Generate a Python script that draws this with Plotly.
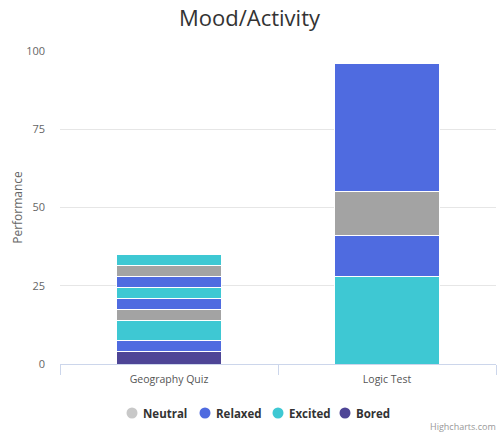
import plotly.graph_objects as go

# Categories and stacked segments (bottom to top) per series
categories = ["Geography Quiz", "Logic Test"]

# Geography Quiz segments, bottom to top
segment_series = ["Bored", "Relaxed", "Excited", "Neutral", "Relaxed",
                  "Excited", "Relaxed", "Neutral", "Excited"]
geography_values = [4, 3.5, 6.5, 3.5, 3.5, 3.5, 3.5, 3.5, 3.5]

# Logic Test segments, bottom to top
logic_series = ["Excited", "Relaxed", "Neutral", "Relaxed"]
logic_values = [28, 13, 14, 41]

legend_order = ["Neutral", "Relaxed", "Excited", "Bored"]

colors = {
    "Neutral": "#a3a3a3",
    "Relaxed": "#4f6be0",
    "Excited": "#3ec8d3",
    "Bored": "#4e4596",
}
legend_colors = {
    "Neutral": "#c8c8c8",
    "Relaxed": "#4f6be0",
    "Excited": "#3ec8d3",
    "Bored": "#4e4596",
}

W, H = 499, 434
ML, MR, MT, MB = 60, 3, 51, 70
PW, PH = W - ML - MR, H - MT - MB

fig = go.Figure()

for name, val in zip(segment_series, geography_values):
    fig.add_trace(go.Bar(
        x=[categories[0]], y=[val], name=name, showlegend=False,
        marker=dict(color=colors[name], line=dict(color="white", width=1)),
    ))

for name, val in zip(logic_series, logic_values):
    fig.add_trace(go.Bar(
        x=[categories[1]], y=[val], name=name, showlegend=False,
        marker=dict(color=colors[name], line=dict(color="white", width=1)),
    ))

# Legend row: round symbols followed by bold labels
legend_symbol_px = [132, 205, 278, 345]
legend_row_px = 413
shapes = []
annotations = []
for name, sx in zip(legend_order, legend_symbol_px):
    xp = (sx - ML) / PW
    yp = (H - MB - legend_row_px) / PH
    shapes.append(dict(
        type="circle", xref="paper", yref="paper",
        xsizemode="pixel", ysizemode="pixel", xanchor=xp, yanchor=yp,
        x0=-5.5, x1=5.5, y0=-5.5, y1=5.5,
        fillcolor=legend_colors[name], line=dict(width=0),
    ))
    annotations.append(dict(
        text=f"<b>{name}</b>", x=xp, y=yp, xref="paper", yref="paper",
        xanchor="left", yanchor="middle", xshift=9, showarrow=False,
        font=dict(size=11.5, color="#333333", family="Open Sans"),
    ))

annotations.append(dict(
    text="Highcharts.com", x=1, y=0, xref="paper", yref="paper",
    xanchor="right", yanchor="top", xshift=2, yshift=-54, showarrow=False,
    font=dict(size=9, color="#999999", family="Open Sans"),
))

fig.update_layout(
    width=W, height=H,
    barmode="stack",
    bargap=0.52,
    showlegend=False,
    paper_bgcolor="white",
    plot_bgcolor="white",
    margin=dict(l=ML, r=MR, t=MT, b=MB),
    font=dict(family="Open Sans", color="#666666"),
    title=dict(
        text="Mood/Activity", x=0.5, xref="container", xanchor="center",
        y=1 - 18 / H, yref="container", yanchor="middle",
        font=dict(size=22, color="#333333", family="Open Sans"),
    ),
    xaxis=dict(
        categoryorder="array", categoryarray=categories,
        showgrid=False, showline=True, linecolor="#ccd6eb", linewidth=1,
        ticks="outside", tickson="boundaries", ticklen=10, tickcolor="#ccd6eb",
        tickfont=dict(size=10.5, color="#555555"),
        ticklabelstandoff=5,
    ),
    yaxis=dict(
        range=[0, 100], tickvals=[0, 25, 50, 75, 100],
        showgrid=True, gridcolor="#e6e6e6", gridwidth=1,
        zeroline=False, showline=False,
        tickfont=dict(size=11, color="#666666"),
        ticklabelstandoff=14,
        title=dict(text="Performance", font=dict(size=12, color="#666666"),
                   standoff=0),
    ),
    shapes=shapes,
    annotations=annotations,
)

fig.write_html("out.html")
